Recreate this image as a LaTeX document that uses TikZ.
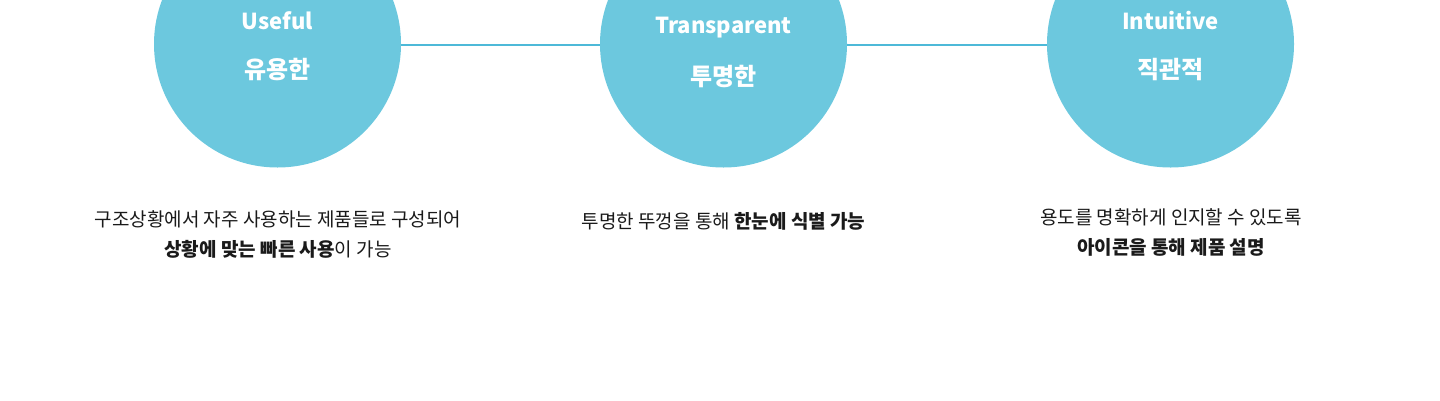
\documentclass[tikz,border=0pt]{standalone}
\usepackage{fontspec}
\setmainfont{Noto Sans CJK KR}
\newfontfamily\kr{Noto Sans CJK KR}
\definecolor{circ}{HTML}{6CC8DE}
\definecolor{link}{HTML}{4DB9D8}
\definecolor{txt}{HTML}{1A1A1A}
\begin{document}
\begin{tikzpicture}[x=1pt,y=-1pt,
  bubble/.style={circle,fill=circ,minimum size=247pt,inner sep=0pt},
  title/.style={text=white,font=\kr\bfseries\fontsize{22}{26}\selectfont,inner sep=0pt},
  ktitle/.style={text=white,font=\kr\bfseries\fontsize{24}{28}\selectfont,inner sep=0pt},
  desc/.style={text=txt,font=\kr\fontsize{19}{30}\selectfont,align=center,inner sep=0pt},
  link/.style={draw=link,line width=2pt}]
\useasboundingbox (0,0) rectangle (1440,400);
\node[bubble] (c1) at (277.5,44) {};
\node[bubble] (c2) at (723.5,44) {};
\node[bubble] (c3) at (1170.5,44) {};
\draw[link] (c1.east |- 0,45) -- (c2.west |- 0,45);
\draw[link] (c2.east |- 0,45) -- (c3.west |- 0,45);
\node[title] (t1a) at (277.5,21) {Useful};
\node[ktitle] (t1b) at (277.5,70) {유용한};
\node[title] (t2a) at (723.5,28) {Transparent};
\node[ktitle] (t2b) at (723.5,77) {투명한};
\node[title] (t3a) at (1170.5,21) {Intuitive};
\node[ktitle] (t3b) at (1170.5,70) {직관적};
\node[desc] (d1) at (278,234) {구조상황에서 자주 사용하는 제품들로 구성되어\\\textbf{상황에 맞는 빠른 사용}이 가능};
\node[desc] (d2) at (723.5,221) {투명한 뚜껑을 통해 \textbf{한눈에 식별 가능}};
\node[desc] (d3) at (1171,232.5) {용도를 명확하게 인지할 수 있도록\\\textbf{아이콘을 통해 제품 설명}};
\end{tikzpicture}
\end{document}
